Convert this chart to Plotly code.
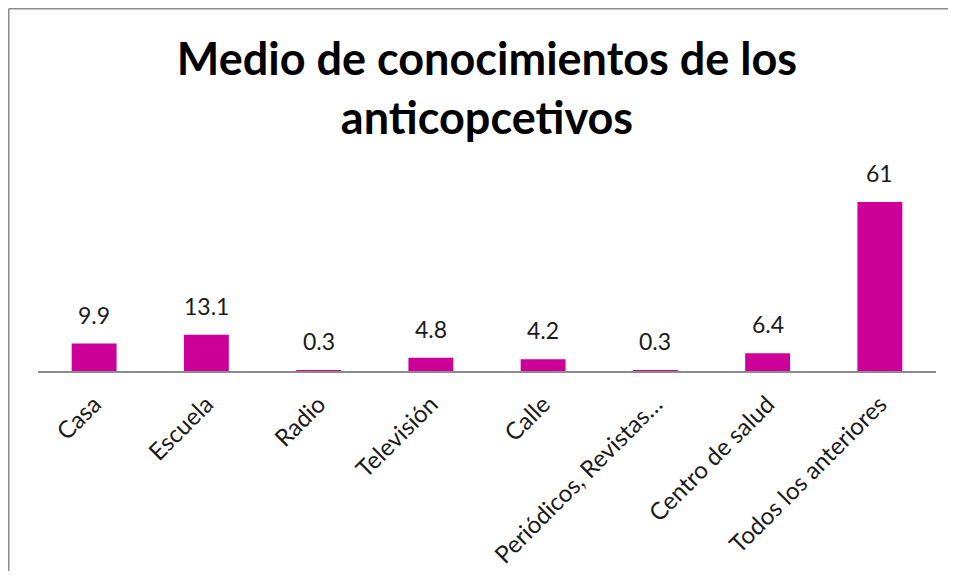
import plotly.graph_objects as go

# ─── Data ─────────────────────────────────────────────────────────────────────
categorias = ["Casa", "Escuela", "Radio", "Televisión", "Calle",
              "Periódicos, Revistas…", "Centro de salud", "Todos los anteriores"]
porcentajes = [9.9, 13.1, 0.3, 4.8, 4.2, 0.3, 6.4, 61]
etiquetas = ["9.9", "13.1", "0.3", "4.8", "4.2", "0.3", "6.4", "61"]

TITULO = "Medio de conocimientos de los<br>anticopcetivos"
MAGENTA = "#CC0099"
FONT = "Lato"

# the page body keeps its default 8px margin: figure coords = page coords - 8,
# and the figure is sized so the window needs no scrollbars
W, H = 940, 563
L, R, T, B = 30, 12, 169, 200

fig = go.Figure(go.Bar(
    x=categorias, y=porcentajes,
    marker=dict(color=MAGENTA, line=dict(width=0)),
    hoverinfo="x+y",
))

# data labels above each bar
for c, v, s in zip(categorias, porcentajes, etiquetas):
    fig.add_annotation(x=c, y=v, text=s, showarrow=False, yanchor="bottom",
                       yshift=13, font=dict(family=FONT, size=23, color="#1a1a1a"))

# chart frame (only top and left edges are visible in the source)
pw, ph = W - L - R, H - T - B
x0 = (0.75 - L) / pw
y0 = 1 + (T - 0.75) / ph
fig.add_shape(type="line", xref="paper", yref="paper", x0=x0, x1=(W - L) / pw,
              y0=y0, y1=y0, line=dict(color="#8c8c8c", width=1.5))
fig.add_shape(type="line", xref="paper", yref="paper", x0=x0, x1=x0,
              y0=y0, y1=-(B + 5) / ph, line=dict(color="#8c8c8c", width=1.5))

fig.update_layout(
    width=W, height=H,
    margin=dict(l=L, r=R, t=T, b=B, autoexpand=False),
    paper_bgcolor="white", plot_bgcolor="white",
    title=dict(text=TITULO, x=479 / W, xanchor="center",
               y=1 - 67 / H, yanchor="middle", yref="container",
               font=dict(family=FONT, size=45, color="black", weight="bold")),
    bargap=0.6,
    showlegend=False,
)
fig.update_xaxes(tickangle=-45, tickfont=dict(family=FONT, size=24, color="#1a1a1a"),
                 showline=True, linecolor="#8c8c8c", linewidth=1.5, automargin=False,
                 ticks="outside", ticklen=8, tickcolor="rgba(0,0,0,0)")
fig.update_yaxes(range=[0, 70], visible=False, showgrid=False, automargin=False)

fig.write_html("out.html")
